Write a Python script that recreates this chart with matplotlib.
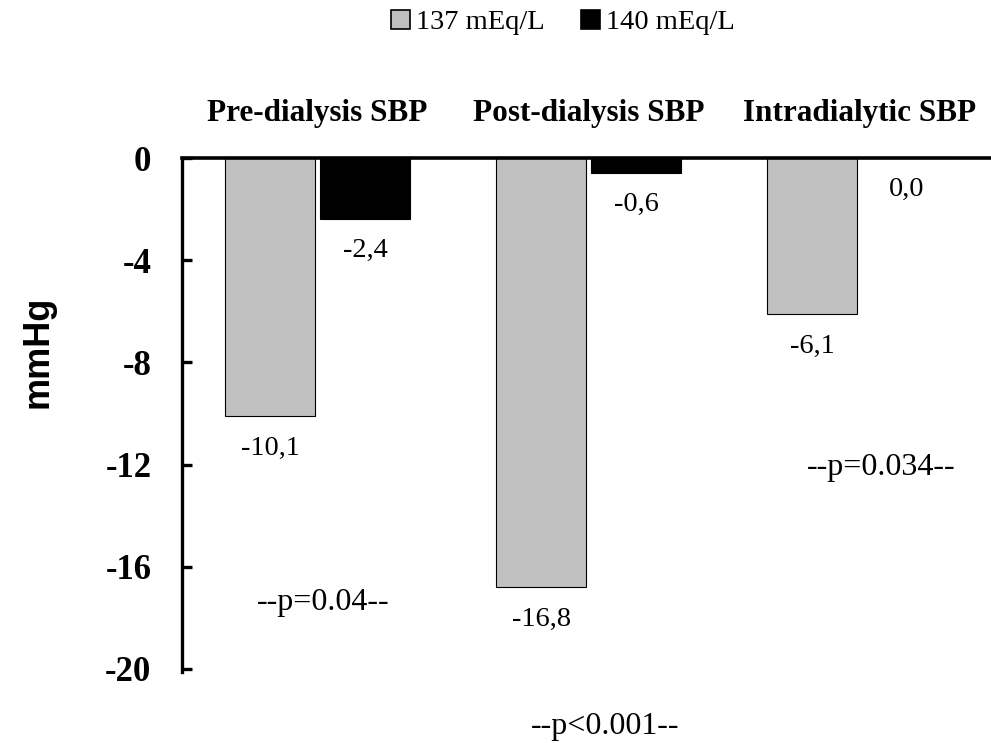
import matplotlib
matplotlib.use("Agg")
import matplotlib.pyplot as plt
from matplotlib.patches import Patch
import numpy as np

categories = ["Pre-dialysis SBP", "Post-dialysis SBP", "Intradialytic SBP"]
series_names = ["137 mEq/L", "140 mEq/L"]
values_137 = [-10.1, -16.8, -6.1]
values_140 = [-2.4, -0.6, 0.0]
p_labels = ["--p=0.04--", "--p<0.001--", "--p=0.034--"]
yticks = [0, -4, -8, -12, -16, -20]

# placement of the p-value annotations (data coordinates)
p_pos = [(0.02, -17.38), (1.06, -22.27), (2.08, -12.13)]

serif = "Liberation Serif"
gray = "#c0c0c0"

fig = plt.figure(figsize=(9.91, 7.43), dpi=100)
ax = fig.add_axes([0.1837, 0.0996, 0.8163, 0.6877])

x = np.arange(len(categories))
w = 0.332
off = 0.175
ax.bar(x - off, values_137, width=w, color=gray, edgecolor="black", linewidth=0.8, zorder=2)
ax.bar(x + off, values_140, width=w, color="black", edgecolor="black", linewidth=0.8, zorder=2)

def fmt(v):
    return f"{v:.1f}".replace(".", ",")

for xi, v in zip(x - off, values_137):
    ax.text(xi, v - 1.27, fmt(v), ha="center", va="center", fontsize=20.5, family=serif)
for xi, v in zip(x + off, values_140):
    ax.text(xi, v - 1.22, fmt(v), ha="center", va="center", fontsize=20.5, family=serif)

for xi, lab in zip(x, categories):
    ax.text(xi, 1.75, lab, ha="center", va="center", fontsize=22.5, family=serif,
            fontweight="bold", clip_on=False)

for (px, py), lab in zip(p_pos, p_labels):
    ax.text(px, py, lab, ha="center", va="center", fontsize=23, family=serif, clip_on=False)

ax.set_xlim(-0.5, 2.485)
ax.set_ylim(-20, 0)
ax.set_yticks(yticks)
ax.set_yticklabels([str(t) for t in yticks], family=serif, fontweight="bold", fontsize=25)
ax.set_xticks([])
for s in ["top", "right", "bottom"]:
    ax.spines[s].set_visible(False)
ax.spines["left"].set_linewidth(2.4)
ax.spines["left"].set_bounds(-20.1, 0)
ax.tick_params(axis="y", direction="in", length=7, width=2.4, pad=22)
ax.axhline(0, color="black", linewidth=2.6, zorder=3, clip_on=False)

ax.set_ylabel("mmHg", fontsize=26, fontweight="bold", family="Liberation Sans")
ax.yaxis.set_label_coords(-0.157, 0.62)

handles = [Patch(facecolor=gray, edgecolor="black", linewidth=1.2),
           Patch(facecolor="black", edgecolor="black", linewidth=1.2)]
fig.legend(handles, series_names, loc="center", bbox_to_anchor=(0.568, 0.970),
           ncol=2, frameon=False, handlelength=0.65, handleheight=0.65,
           handletextpad=0.2, columnspacing=1.3, borderpad=0.1,
           prop={"family": serif, "size": 20.5})

fig.savefig("out.png", dpi=100)
